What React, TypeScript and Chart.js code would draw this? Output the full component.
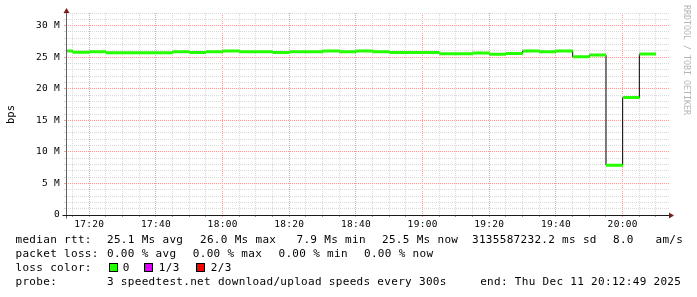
import React, { useEffect, useRef } from "react";
import { Chart, registerables } from "chart.js";

Chart.register(...registerables);

// ---- data (5-minute median RTT steps, in Ms) ----
const intervalStart = [
  "17:10", "17:15", "17:20", "17:25", "17:30", "17:35", "17:40", "17:45", "17:50", "17:55",
  "18:00", "18:05", "18:10", "18:15", "18:20", "18:25", "18:30", "18:35", "18:40", "18:45",
  "18:50", "18:55", "19:00", "19:05", "19:10", "19:15", "19:20", "19:25", "19:30", "19:35",
  "19:40", "19:45", "19:50", "19:55", "20:00", "20:05",
];
const medianMs = [
  26.0, 25.8, 25.85, 25.7, 25.7, 25.7, 25.7, 25.85, 25.75, 25.85,
  26.0, 25.85, 25.85, 25.75, 25.85, 25.85, 26.0, 25.85, 26.0, 25.85,
  25.75, 25.75, 25.75, 25.55, 25.55, 25.65, 25.45, 25.6, 26.0, 25.85,
  26.0, 25.05, 25.35, 7.9, 18.6, 25.5,
];
const stepMinutes = 5;

const xTickLabels = ["17:20", "17:40", "18:00", "18:20", "18:40", "19:00", "19:20", "19:40", "20:00"];
const yTickValues = [0, 5, 10, 15, 20, 25, 30];
const yTickLabels = ["0", "5 M", "10 M", "15 M", "20 M", "25 M", "30 M"];

const X_MIN = 17 * 60 + 13.0;
const X_MAX = X_MIN + 180.9;
const Y_MAX = 32;

const GREEN = "#26ff00";
const GRID_MINOR = "#d9d9d9";
const GRID_MAJOR = "#e9a3a3";
const ARROW = "#7f1d1d";
const MONO = '"DejaVu Sans Mono", monospace';

const toMin = (s: string) => {
  const [h, m] = s.split(":").map(Number);
  return h * 60 + m;
};

const decorPlugin = {
  id: "decor",
  beforeDraw(chart: any) {
    chart.ctx.letterSpacing = "0.3px";
  },
  afterDraw(chart: any) {
    const ctx = chart.ctx as CanvasRenderingContext2D;
    const a = chart.chartArea;
    ctx.save();
    (ctx as any).letterSpacing = "0px";
    const ax = Math.round(a.left) + 0.5;
    const ay = Math.round(a.bottom) + 0.5;
    ctx.lineWidth = 1;
    ctx.strokeStyle = "#606060";
    ctx.beginPath();
    ctx.moveTo(ax, ay + 3);
    ctx.lineTo(ax, a.top - 3);
    ctx.stroke();
    ctx.strokeStyle = "#1a1a1a";
    ctx.beginPath();
    ctx.moveTo(ax - 4, ay);
    ctx.lineTo(a.right + 1, ay);
    ctx.stroke();
    // arrows
    ctx.fillStyle = ARROW;
    ctx.beginPath();
    ctx.moveTo(ax - 3, a.top);
    ctx.lineTo(ax + 3, a.top);
    ctx.lineTo(ax, a.top - 5);
    ctx.closePath();
    ctx.fill();
    ctx.beginPath();
    ctx.moveTo(a.right, ay - 3);
    ctx.lineTo(a.right, ay + 3);
    ctx.lineTo(a.right + 5, ay);
    ctx.closePath();
    ctx.fill();
    // y title
    ctx.fillStyle = "#000";
    ctx.font = `10.5px ${MONO}`;
    ctx.textAlign = "center";
    ctx.textBaseline = "middle";
    ctx.save();
    ctx.translate(11, 114.5);
    ctx.rotate(-Math.PI / 2);
    ctx.fillText("bps", 0, 0);
    ctx.restore();
    // watermark
    ctx.fillStyle = "#b4b4b4";
    ctx.font = `8.3px ${MONO}`;
    ctx.save();
    ctx.translate(686.5, 60);
    ctx.rotate(Math.PI / 2);
    ctx.fillText("RRDTOOL / TOBI OETIKER", 0, 0);
    ctx.restore();
    ctx.restore();
  },
};

type Piece = { x: number; t: string };
const textLines: { top: number; pieces: Piece[] }[] = [
  {
    top: 233,
    pieces: [
      { x: 15.5, t: "median rtt:" },
      { x: 107, t: "25.1 Ms avg" },
      { x: 200, t: "26.0 Ms max" },
      { x: 296.5, t: "7.9 Ms min" },
      { x: 382, t: "25.5 Ms now" },
      { x: 472, t: "3135587232.2 ms sd" },
      { x: 613, t: "8.0" },
      { x: 655.5, t: "am/s" },
    ],
  },
  {
    top: 247,
    pieces: [
      { x: 15.5, t: "packet loss:" },
      { x: 107, t: "0.00 % avg" },
      { x: 192.8, t: "0.00 % max" },
      { x: 278.5, t: "0.00 % min" },
      { x: 364, t: "0.00 % now" },
    ],
  },
  {
    top: 261,
    pieces: [
      { x: 15.5, t: "loss color:" },
      { x: 122.7, t: "0" },
      { x: 158.8, t: "1/3" },
      { x: 210.8, t: "2/3" },
    ],
  },
  {
    top: 275,
    pieces: [
      { x: 15.5, t: "probe:" },
      { x: 107, t: "3 speedtest.net download/upload speeds every 300s" },
      { x: 480.2, t: "end: Thu Dec 11 20:12:49 2025" },
    ],
  },
];
const swatches = [
  { x: 108.5, c: "#26ff00" },
  { x: 144, c: "#dd00ff" },
  { x: 196, c: "#ff0000" },
];

export default function App() {
  const ref = useRef<HTMLCanvasElement | null>(null);

  useEffect(() => {
    if (!ref.current) return;
    const greenData: { x: number; y: number | null }[] = [];
    const stepData: { x: number; y: number }[] = [];
    intervalStart.forEach((t, i) => {
      const x0 = toMin(t);
      greenData.push({ x: x0, y: medianMs[i] }, { x: x0 + stepMinutes, y: medianMs[i] }, { x: x0 + stepMinutes, y: null });
      stepData.push({ x: x0, y: medianMs[i] });
    });
    const last = intervalStart.length - 1;
    stepData.push({ x: toMin(intervalStart[last]) + stepMinutes, y: medianMs[last] });

    const xGrid: number[] = [];
    for (let v = Math.ceil(X_MIN / 5) * 5; v <= X_MAX; v += 5) xGrid.push(v);
    const yGrid: number[] = [];
    for (let v = 0; v <= Y_MAX; v += 1) yGrid.push(v);

    const fmt = (m: number) => {
      const h = Math.floor(m / 60);
      const mm = Math.round(m - h * 60);
      return `${h}:${mm < 10 ? "0" : ""}${mm}`;
    };

    const chart = new Chart(ref.current, {
      type: "line",
      data: {
        datasets: [
          {
            label: "median",
            data: greenData as any,
            borderColor: GREEN,
            borderWidth: 3,
            pointRadius: 0,
            spanGaps: false,
            clip: 0 as any,
            order: 0,
          },
          {
            label: "steps",
            data: stepData as any,
            borderColor: "#000",
            borderWidth: 1,
            stepped: "before",
            pointRadius: 0,
            clip: 0 as any,
            order: 1,
          },
        ],
      },
      options: {
        animation: false,
        responsive: false,
        devicePixelRatio: 1,
        events: [],
        layout: { padding: { left: 0, top: 13, right: 28, bottom: 0 } },
        plugins: {
          legend: { display: false },
          tooltip: { enabled: false },
          title: { display: false },
        },
        scales: {
          x: {
            type: "linear",
            min: X_MIN,
            max: X_MAX,
            afterBuildTicks: (s: any) => {
              s.ticks = xGrid.map((v) => ({ value: v }));
            },
            afterFit: (s: any) => {
              s.height = 82;
            },
            grid: {
              color: (c: any) => (c.tick && c.tick.value % 20 === 0 ? GRID_MAJOR : GRID_MINOR),
              tickColor: (c: any) => (c.tick && c.tick.value % 20 === 0 ? GRID_MAJOR : "#9a9a9a"),
              tickLength: 2,
              lineWidth: 1,
            },
            border: { display: false, dash: [1, 1] },
            ticks: {
              autoSkip: false,
              maxRotation: 0,
              padding: 2,
              color: "#000",
              font: { family: MONO, size: 9.5 },
              callback: (v: any) => {
                const s = fmt(Number(v));
                return xTickLabels.includes(s) ? s : "";
              },
            },
          },
          y: {
            type: "linear",
            min: 0,
            max: Y_MAX,
            afterBuildTicks: (s: any) => {
              s.ticks = yGrid.map((v) => ({ value: v }));
            },
            afterFit: (s: any) => {
              s.width = 66;
            },
            grid: {
              color: (c: any) => (c.tick && c.tick.value % 5 === 0 ? GRID_MAJOR : GRID_MINOR),
              tickColor: (c: any) => (c.tick && c.tick.value % 5 === 0 ? GRID_MAJOR : GRID_MINOR),
              tickLength: 2,
              lineWidth: 1,
            },
            border: { display: false, dash: [1, 1] },
            ticks: {
              autoSkip: false,
              padding: 4,
              color: "#000",
              font: { family: MONO, size: 9.5 },
              callback: (v: any) => {
                const i = yTickValues.indexOf(Number(v));
                return i >= 0 ? yTickLabels[i] : "";
              },
            },
          },
        },
      } as any,
      plugins: [decorPlugin as any],
    });
    return () => chart.destroy();
  }, []);

  return (
    <div style={{ position: "absolute", left: 0, top: 0, width: 697, height: 297, background: "#fff", overflow: "hidden" }}>
      <canvas ref={ref} width={697} height={297} style={{ position: "absolute", left: 0, top: 0, width: 697, height: 297 }} />
      {textLines.map((ln, li) =>
        ln.pieces.map((p, pi) => (
          <span
            key={`${li}-${pi}`}
            style={{
              position: "absolute",
              left: p.x,
              top: ln.top,
              fontFamily: MONO,
              fontSize: 11,
              letterSpacing: "0.31px",
              lineHeight: "14px",
              whiteSpace: "pre",
              color: "#000",
            }}
          >
            {p.t}
          </span>
        ))
      )}
      {swatches.map((s, i) => (
        <div
          key={i}
          style={{
            position: "absolute",
            left: s.x,
            top: 263,
            width: 9,
            height: 9,
            boxSizing: "border-box",
            border: "1px solid #000",
            background: s.c,
          }}
        />
      ))}
    </div>
  );
}
